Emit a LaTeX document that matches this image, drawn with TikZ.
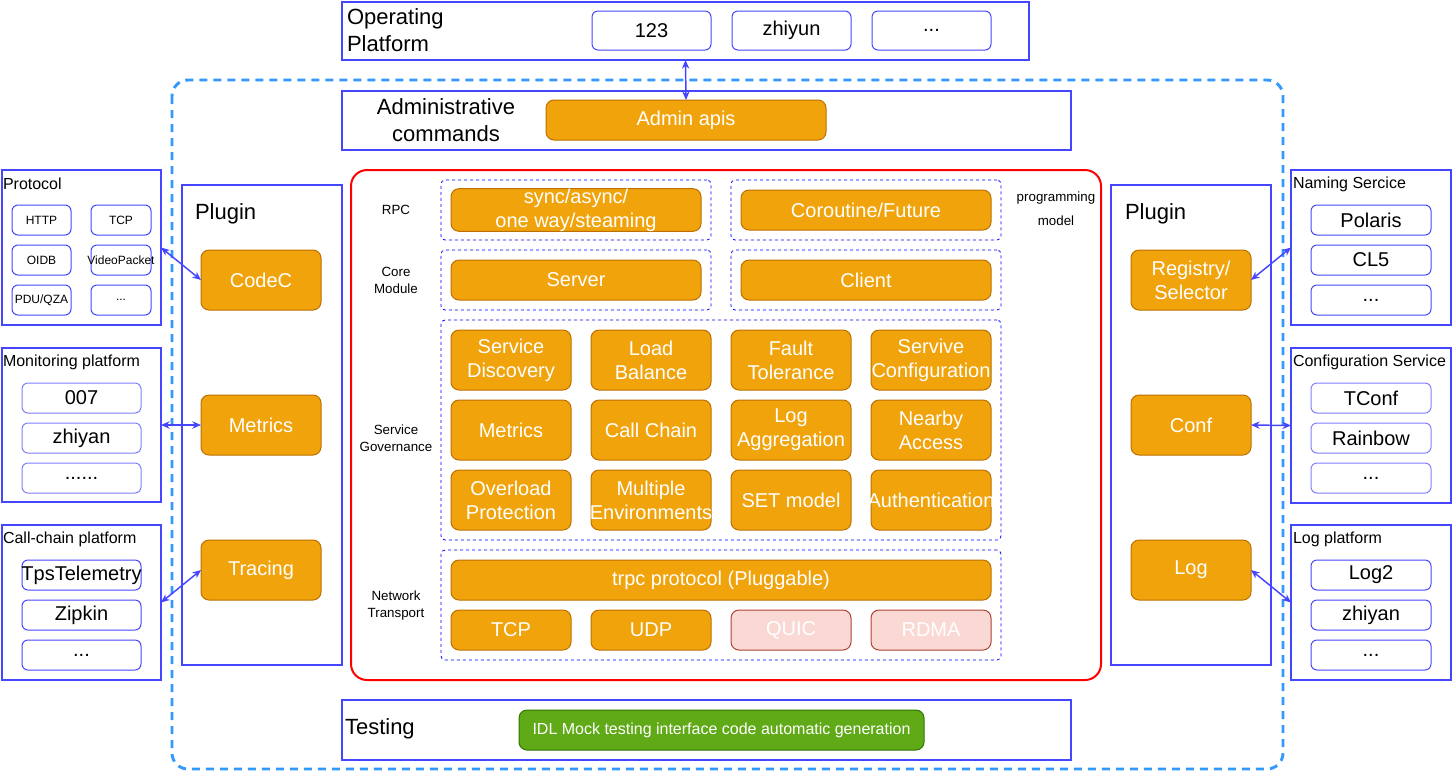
\documentclass[tikz,border=0pt]{standalone}
\usepackage{fontspec}
\setmainfont{Liberation Sans}
\usetikzlibrary{arrows.meta}
\definecolor{orF}{HTML}{F0A30A}
\definecolor{orS}{HTML}{BD7000}
\definecolor{pblue}{HTML}{4646FF}
\definecolor{lblue}{HTML}{8080FF}
\definecolor{dashblue}{HTML}{3399FF}
\definecolor{grF}{HTML}{60A917}
\definecolor{grS}{HTML}{2D7600}
\definecolor{pkF}{HTML}{FAD9D5}
\definecolor{pkS}{HTML}{AE4132}
\newcommand{\fsz}[2]{\fontsize{#1}{#2}\selectfont}
\newcommand{\zb}[1]{\makebox[0pt]{#1}}
\newcommand{\bx}[7]{\node[#6, minimum width={(#4-#2)*0.75pt}, minimum height={(#5-#3)*0.75pt}] (#1) at ({(#2+#4)/2},{(#3+#5)/2}) {#7};}
\tikzset{
  base/.style={inner sep=0pt, outer sep=0pt, align=center},
  panel/.style={base, draw=pblue, line width=1.5pt, fill=white},
  sub/.style={base, draw=pblue, line width=0.75pt, rounded corners=4.5pt, fill=white, font=\fsz{15}{18}},
  lsub/.style={sub, draw=lblue},
  psub/.style={sub, font=\fsz{9}{11}},
  ob/.style={base, fill=orF, draw=orS, line width=0.75pt, rounded corners=6pt, text=white, font=\fsz{15}{18}},
  pk/.style={ob, fill=pkF, draw=pkS},
  gr/.style={base, fill=grF, draw=grS, line width=0.75pt, rounded corners=6pt, text=white, font=\fsz{12}{14}},
  dbox/.style={base, draw=blue, line width=0.6pt, dash pattern=on 2.25pt off 2.25pt, rounded corners=3pt},
  redbox/.style={base, draw=red, line width=1.5pt, rounded corners=12pt},
  lab/.style={base, font=\fsz{16.5}{20}},
  slab/.style={base, font=\fsz{10}{12.75}},
  tlab/.style={base, font=\fsz{12}{14}, anchor=west},
  arr/.style={draw=pblue, line width=1.1pt, {Stealth[length=6.5pt,width=5.5pt]}-{Stealth[length=6.5pt,width=5.5pt]}},
}
\begin{document}
\begin{tikzpicture}[x=0.75pt,y=-0.75pt]
\useasboundingbox (0,0) rectangle (1452,772);
% outer dashed frame
\draw[draw=dashblue, line width=2.2pt, dash pattern=on 6pt off 4.5pt, rounded corners=12pt] (172,80) rectangle (1283,769);

% Operating platform
\bx{op}{342}{2}{1029}{60}{panel}{}
\node[lab, anchor=west, align=left] (oplab) at (347,30) {Operating\\Platform};
\bx{op1}{592}{11}{711}{50}{sub}{123}
\bx{op2}{732}{11}{851}{50}{sub}{zhiyun}
\bx{op3}{872}{11}{991}{50}{sub}{...}

% Administrative
\bx{adm}{342}{91}{1071}{150}{panel}{}
\node[lab] (admlab) at (446,120) {Administrative\\commands};
\bx{apis}{546}{100}{826}{140}{ob}{Admin apis}
\draw[arr] (apis.north) -- (op.south);

% core red box
\bx{core}{351}{170}{1101}{680}{redbox}{}
\node[slab, font=\fsz{10}{18}] (pm) at (1056,209) {programming\\model};

\node[slab] (rpcl) at (396,210) {RPC};
\bx{rpcd1}{441}{180}{711}{240}{dbox}{}
\bx{sync}{451}{190}{701}{230}{ob}{sync/async/\\one way/steaming}
\bx{rpcd2}{731}{180}{1001}{240}{dbox}{}
\bx{coro}{741}{190}{991}{230}{ob}{Coroutine/Future}

\node[slab] (corel) at (396,280.5) {Core\\Module};
\bx{cored1}{441}{250}{711}{310}{dbox}{}
\bx{server}{451}{260}{701}{300}{ob}{Server}
\bx{cored2}{731}{250}{1001}{310}{dbox}{}
\bx{client}{741}{260}{991}{300}{ob}{Client}

\node[slab] (govl) at (396,438.5) {Service\\Governance};
\bx{govd}{441}{320}{1001}{540}{dbox}{}
\bx{g11}{451}{330}{571}{390}{ob}{Service\\Discovery}
\bx{g12}{591}{330}{711}{390}{ob}{Load\\Balance}
\bx{g13}{731}{330}{851}{390}{ob}{Fault\\Tolerance}
\bx{g14}{871}{330}{991}{390}{ob}{\zb{Servive}\\\zb{Configuration}}
\bx{g21}{451}{400}{571}{460}{ob}{Metrics}
\bx{g22}{591}{400}{711}{460}{ob}{Call Chain}
\bx{g23}{731}{400}{851}{460}{ob}{Log\\Aggregation}
\bx{g24}{871}{400}{991}{460}{ob}{Nearby\\Access}
\bx{g31}{451}{470}{571}{530}{ob}{Overload\\Protection}
\bx{g32}{591}{470}{711}{530}{ob}{\zb{Multiple}\\\zb{Environments}}
\bx{g33}{731}{470}{851}{530}{ob}{SET model}
\bx{g34}{871}{470}{991}{530}{ob}{\zb{Authentication}}

\node[slab] (netl) at (396,605.5) {Network\\Transport};
\bx{netd}{441}{550}{1001}{660}{dbox}{}
\bx{trpc}{451}{560}{991}{600}{ob}{trpc protocol (Pluggable)}
\bx{tcp}{451}{610}{571}{650}{ob}{TCP}
\bx{udp}{591}{610}{711}{650}{ob}{UDP}
\bx{quic}{731}{610}{851}{650}{pk}{QUIC}
\bx{rdma}{871}{610}{991}{650}{pk}{RDMA}

% Testing
\bx{test}{342}{700}{1071}{760}{panel}{}
\node[lab, anchor=west] (testlab) at (345,729) {Testing};
\bx{idl}{519}{710}{924}{750}{gr}{IDL Mock testing interface code automatic generation}

% Left plugin
\bx{lplug}{182}{185}{342}{665}{panel}{}
\node[lab, anchor=west] (lpluglab) at (195,214) {Plugin};
\bx{codec}{201}{250}{321}{310}{ob}{CodeC}
\bx{lmet}{201}{395}{321}{455}{ob}{Metrics}
\bx{trac}{201}{540}{321}{600}{ob}{Tracing}

% Right plugin
\bx{rplug}{1111}{185}{1271}{665}{panel}{}
\node[lab, anchor=west] (rpluglab) at (1125,214) {Plugin};
\bx{reg}{1131}{250}{1251}{310}{ob}{Registry/\\Selector}
\bx{conf}{1131}{395}{1251}{455}{ob}{Conf}
\bx{log}{1131}{540}{1251}{600}{ob}{Log}

% Protocol
\bx{proto}{2}{170}{161}{325}{panel}{}
\node[tlab] (protolab) at (3,184) {Protocol};
\bx{p1}{12}{205}{71}{235}{psub}{HTTP}
\bx{p2}{91}{205}{151}{235}{psub}{TCP}
\bx{p3}{12}{245}{71}{275}{psub}{OIDB}
\bx{p4}{91}{245}{151}{275}{psub}{\zb{VideoPacket}}
\bx{p5}{12}{285}{71}{315}{psub}{PDU/QZA}
\bx{p6}{91}{285}{151}{315}{psub}{...}

% Monitoring
\bx{mon}{2}{348}{161}{502}{panel}{}
\node[tlab] (monlab) at (3,362) {Monitoring platform};
\bx{m1}{22}{383}{141}{413}{lsub}{007}
\bx{m2}{22}{423}{141}{453}{lsub}{zhiyan}
\bx{m3}{22}{463}{141}{493}{lsub}{......}

% Call-chain
\bx{cc}{2}{525}{161}{680}{panel}{}
\node[tlab] (cclab) at (3,539) {Call-chain platform};
\bx{c1}{22}{560}{141}{590}{sub}{\zb{TpsTelemetry}}
\bx{c2}{22}{600}{141}{630}{sub}{Zipkin}
\bx{c3}{22}{640}{141}{670}{sub}{...}

% Naming
\bx{nam}{1291}{170}{1451}{325}{panel}{}
\node[tlab] (namlab) at (1293,184) {Naming Sercice};
\bx{n1}{1311}{205}{1431}{235}{sub}{Polaris}
\bx{n2}{1311}{245}{1431}{275}{sub}{CL5}
\bx{n3}{1311}{285}{1431}{315}{sub}{...}

% Configuration
\bx{cfg}{1291}{348}{1451}{503}{panel}{}
\node[tlab] (cfglab) at (1293,362) {Configuration Service};
\bx{f1}{1311}{383}{1431}{413}{lsub}{TConf}
\bx{f2}{1311}{423}{1431}{453}{lsub}{Rainbow}
\bx{f3}{1311}{463}{1431}{493}{lsub}{...}

% Log platform
\bx{logp}{1291}{525}{1451}{680}{panel}{}
\node[tlab] (logplab) at (1293,539) {Log platform};
\bx{l1}{1311}{560}{1431}{590}{sub}{Log2}
\bx{l2}{1311}{600}{1431}{630}{sub}{zhiyan}
\bx{l3}{1311}{640}{1431}{670}{sub}{...}

% connectors
\draw[arr] (codec.west) -- (proto.east);
\draw[arr] (lmet.west) -- (mon.east);
\draw[arr] (trac.west) -- (cc.east);
\draw[arr] (reg.east) -- (nam.west);
\draw[arr] (conf.east) -- (cfg.west);
\draw[arr] (log.east) -- (logp.west);
\end{tikzpicture}
\end{document}
